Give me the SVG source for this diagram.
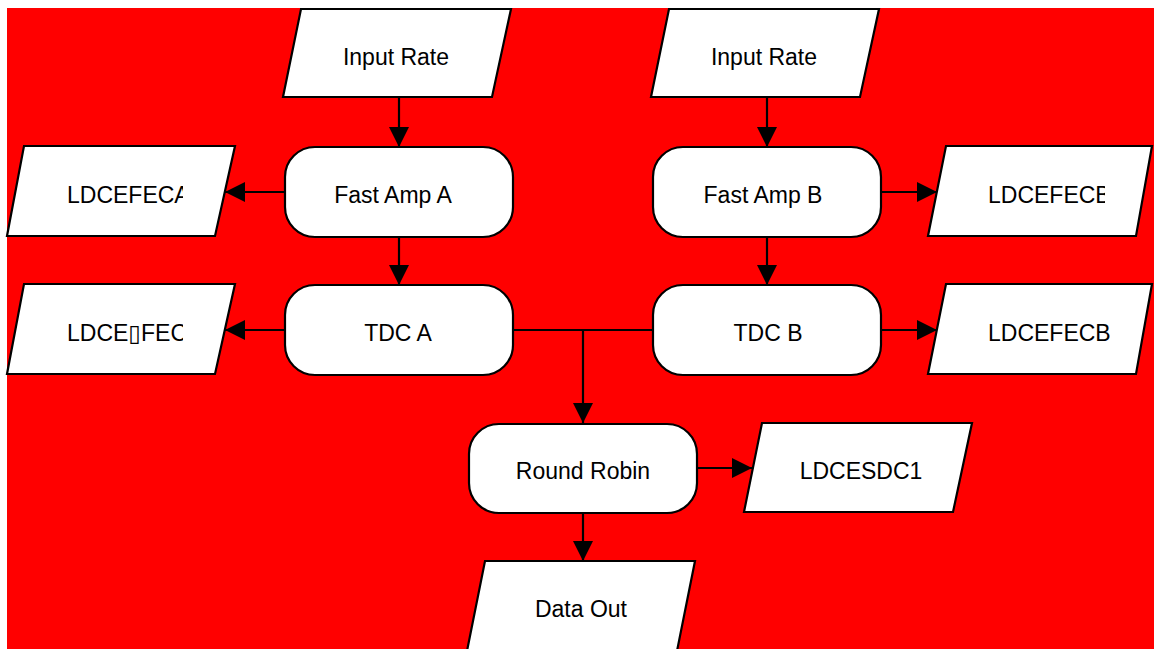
<svg xmlns="http://www.w3.org/2000/svg" width="1154" height="649" viewBox="0 0 1154 649">
<style>
.n{fill:#fff;stroke:#000;stroke-width:2.2}
.t{font-family:"Liberation Sans","DejaVu Sans",Arial,sans-serif;font-size:23px;fill:#000}
.c{text-anchor:middle}
.e{fill:none;stroke:#000;stroke-width:2.2}
</style>
<defs>
<marker id="ah" markerUnits="userSpaceOnUse" markerWidth="20" markerHeight="20" viewBox="0 0 18 18" refX="18" refY="9" orient="auto">
<path d="M0,0 L18,9 L0,18 Z" fill="#000"/>
</marker>
<clipPath id="clipA"><rect x="0" y="140" width="183" height="100"/></clipPath>
<clipPath id="clipA2"><rect x="0" y="278" width="183" height="100"/></clipPath>
<clipPath id="clipB"><rect x="900" y="140" width="205" height="100"/></clipPath>
</defs>
<rect x="7" y="8" width="1147" height="641" fill="#ff0000"/>
<g id="connectors">
<path class="e" d="M399,97 L399,147" marker-end="url(#ah)"/>
<path class="e" d="M767,97 L767,147" marker-end="url(#ah)"/>
<path class="e" d="M285,192 L225,192" marker-end="url(#ah)"/>
<path class="e" d="M399,237 L399,285" marker-end="url(#ah)"/>
<path class="e" d="M767,237 L767,285" marker-end="url(#ah)"/>
<path class="e" d="M881,192 L937,192" marker-end="url(#ah)"/>
<path class="e" d="M285,330 L225,330" marker-end="url(#ah)"/>
<path class="e" d="M881,330 L937,330" marker-end="url(#ah)"/>
<path class="e" d="M513,330 L583,330 L583,423" marker-end="url(#ah)"/>
<path class="e" d="M653,330 L583,330"/>
<path class="e" d="M697,468 L752,468" marker-end="url(#ah)"/>
<path class="e" d="M583,513 L583,561" marker-end="url(#ah)"/>
</g>
<g id="input-rate-a">
<polygon class="n" points="301,9 511,9 492,97 283,97"/>
<text class="t c" x="396" y="65">Input Rate</text>
</g>
<g id="input-rate-b">
<polygon class="n" points="669,9 879,9 860,97 651,97"/>
<text class="t c" x="764" y="65">Input Rate</text>
</g>
<g id="fast-amp-a">
<rect class="n" x="285" y="147" width="228" height="90" rx="30" ry="30"/>
<text class="t c" x="393" y="203">Fast Amp A</text>
</g>
<g id="fast-amp-b">
<rect class="n" x="653" y="147" width="228" height="90" rx="30" ry="30"/>
<text class="t c" x="763" y="203">Fast Amp B</text>
</g>
<g id="tdc-a">
<rect class="n" x="285" y="285" width="228" height="90" rx="30" ry="30"/>
<text class="t c" x="398" y="341">TDC A</text>
</g>
<g id="tdc-b">
<rect class="n" x="653" y="285" width="228" height="90" rx="30" ry="30"/>
<text class="t c" x="768" y="341">TDC B</text>
</g>
<g id="ldcefeca">
<polygon class="n" points="24,146 235,146 215,236 7,236"/>
<text class="t" x="67" y="203" clip-path="url(#clipA)">LDCEFECA</text>
</g>
<g id="ldce-fec">
<polygon class="n" points="24,284 235,284 215,374 7,374"/>
<text class="t" x="67" y="341" clip-path="url(#clipA2)">LDCE▯FECA</text>
</g>
<g id="ldcefecb-top">
<polygon class="n" points="946,146 1152,146 1136,236 928,236"/>
<text class="t" x="988" y="203" clip-path="url(#clipB)">LDCEFECB</text>
</g>
<g id="ldcefecb">
<polygon class="n" points="946,284 1152,284 1136,374 928,374"/>
<text class="t" x="988" y="341">LDCEFECB</text>
</g>
<g id="round-robin">
<rect class="n" x="469" y="424" width="228" height="89" rx="30" ry="30"/>
<text class="t c" x="583" y="479">Round Robin</text>
</g>
<g id="ldcesdc1">
<polygon class="n" points="762,423 972,423 953,512 744,512"/>
<text class="t c" x="861" y="479">LDCESDC1</text>
</g>
<g id="data-out">
<polygon class="n" points="485,561 695,561 677,651 467,651"/>
<text class="t c" x="581" y="617">Data Out</text>
</g>
</svg>
